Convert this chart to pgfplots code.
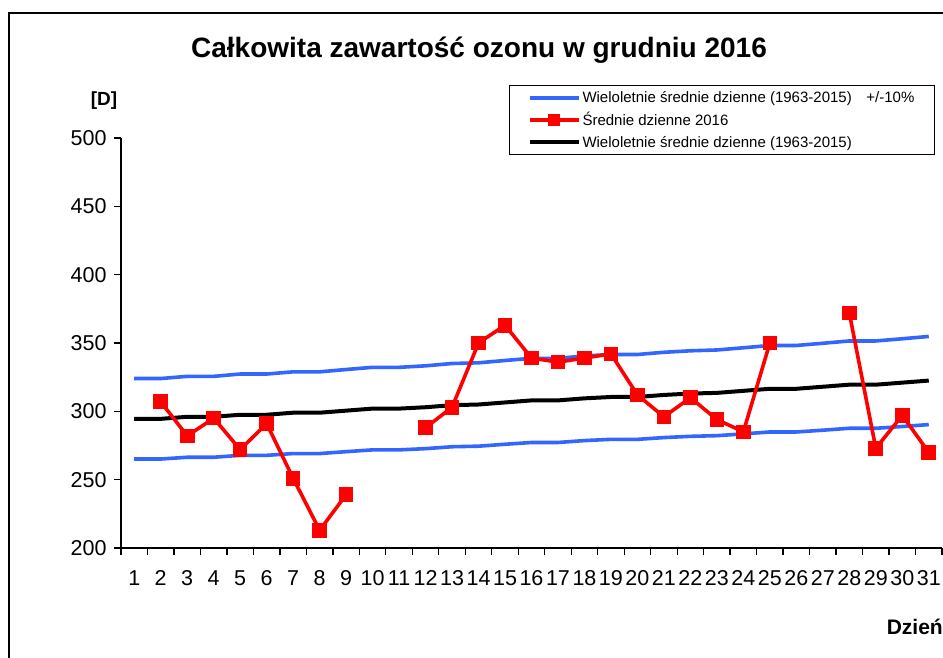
\documentclass[border=0pt]{standalone}
\usepackage{fontspec}
\setmainfont{Liberation Sans}
\usepackage{pgfplots}
\pgfplotsset{compat=1.18}
\definecolor{cBand}{HTML}{3366FF}
\definecolor{cRed}{HTML}{FF0000}

\begin{document}
\begin{tikzpicture}
\useasboundingbox (0,0) rectangle (943pt,657pt);
\clip (0,0) rectangle (943pt,657pt);
% outer chart frame (cropped on the right and bottom)
\draw[line width=1.5pt] (9pt,-20pt) -- (9pt,644pt) -- (980pt,644pt);
\node[font=\fontsize{28}{32}\selectfont\bfseries] at (479pt,607pt)
  {Całkowita zawartość ozonu w grudniu 2016};
\node[font=\fontsize{19}{22}\selectfont\bfseries] at (104pt,556pt) {[D]};
\node[font=\fontsize{21}{24}\selectfont\bfseries, anchor=east, inner sep=0pt] at (943pt,30pt) {Dzień};

\begin{axis}[
  at={(121pt,109pt)}, anchor=south west,
  scale only axis, width=821pt, height=410pt,
  xmin=0.5, xmax=31.5, ymin=200, ymax=500,
  axis x line=bottom, axis y line=left,
  axis line style={-, line width=1.5pt},
  xtick={1,...,31}, major x tick style={draw=none},
  minor xtick={0.5,1.5,...,31.5},
  ytick={200,250,...,500},
  tick align=outside, major tick length=7pt, minor tick length=7pt,
  tick style={line width=1.3pt, black},
  ticklabel style={font=\fontsize{21.5}{25}\selectfont},
  xticklabel style={yshift=-12pt},
  yticklabel style={xshift=-4pt},
  /pgf/number format/assume math mode=true,
  unbounded coords=jump,
  clip=false,
  legend style={at={(0.4726,1.1293)}, anchor=north west, draw=black,
    line width=1pt, font=\fontsize{15}{18}\selectfont,
    inner xsep=18pt, inner ysep=4pt, row sep=4.5pt,
    cells={anchor=west}},
  legend image code/.code={\draw[mark repeat=2,mark phase=2]
    plot coordinates {(0pt,0pt)(24.5pt,0pt)(49pt,0pt)};},
]
% upper band: long-term mean +10%
\addplot[color=cBand, line width=3.6pt, forget plot] coordinates {
(1,324.0)(2,324.0)(3,325.6)(4,325.6)(5,327.3)(6,327.3)(7,328.9)(8,328.9)
(9,330.6)(10,332.2)(11,332.2)(12,333.3)(13,335.0)(14,335.5)(15,337.2)(16,338.8)
(17,338.8)(18,340.5)(19,341.6)(20,341.6)(21,343.2)(22,344.3)(23,344.9)(24,346.5)
(25,348.2)(26,348.2)(27,349.8)(28,351.5)(29,351.5)(30,353.1)(31,354.8)};
% lower band: long-term mean -10%
\addplot[color=cBand, line width=3.6pt, forget plot] coordinates {
(1,265.1)(2,265.1)(3,266.4)(4,266.4)(5,267.8)(6,267.8)(7,269.1)(8,269.1)
(9,270.5)(10,271.8)(11,271.8)(12,272.7)(13,274.1)(14,274.5)(15,275.9)(16,277.2)
(17,277.2)(18,278.6)(19,279.5)(20,279.5)(21,280.8)(22,281.7)(23,282.2)(24,283.5)
(25,284.9)(26,284.9)(27,286.2)(28,287.6)(29,287.6)(30,288.9)(31,290.3)};
% long-term daily mean 1963-2015
\addplot[color=black, line width=4pt, forget plot] coordinates {
(1,294.5)(2,294.5)(3,296.0)(4,296.0)(5,297.5)(6,297.5)(7,299.0)(8,299.0)
(9,300.5)(10,302.0)(11,302.0)(12,303.0)(13,304.5)(14,305.0)(15,306.5)(16,308.0)
(17,308.0)(18,309.5)(19,310.5)(20,310.5)(21,312.0)(22,313.0)(23,313.5)(24,315.0)
(25,316.5)(26,316.5)(27,318.0)(28,319.5)(29,319.5)(30,321.0)(31,322.5)};
% daily means December 2016
\addplot[color=cRed, line width=3.6pt, mark=square*, mark size=5.5pt, forget plot] coordinates {
(2,307)(3,282)(4,295)(5,272)(6,291)(7,251)(8,213)(9,239)(10,nan)(11,nan)
(12,288)(13,303)(14,350)(15,363)(16,339)(17,336)(18,339)(19,342)(20,312)
(21,296)(22,310)(23,294)(24,285)(25,350)(26,nan)(27,nan)
(28,372)(29,273)(30,297)(31,270)};

\addlegendimage{color=cBand, line width=3.6pt}
\addlegendentry{\makebox[332pt][l]{Wieloletnie średnie dzienne (1963-2015)\hfill+/-10\%}}
\addlegendimage{color=cRed, line width=3.6pt, mark=square*, mark size=4pt}
\addlegendentry{Średnie dzienne 2016}
\addlegendimage{color=black, line width=4pt}
\addlegendentry{Wieloletnie średnie dzienne (1963-2015)}
\end{axis}
\end{tikzpicture}
\end{document}
